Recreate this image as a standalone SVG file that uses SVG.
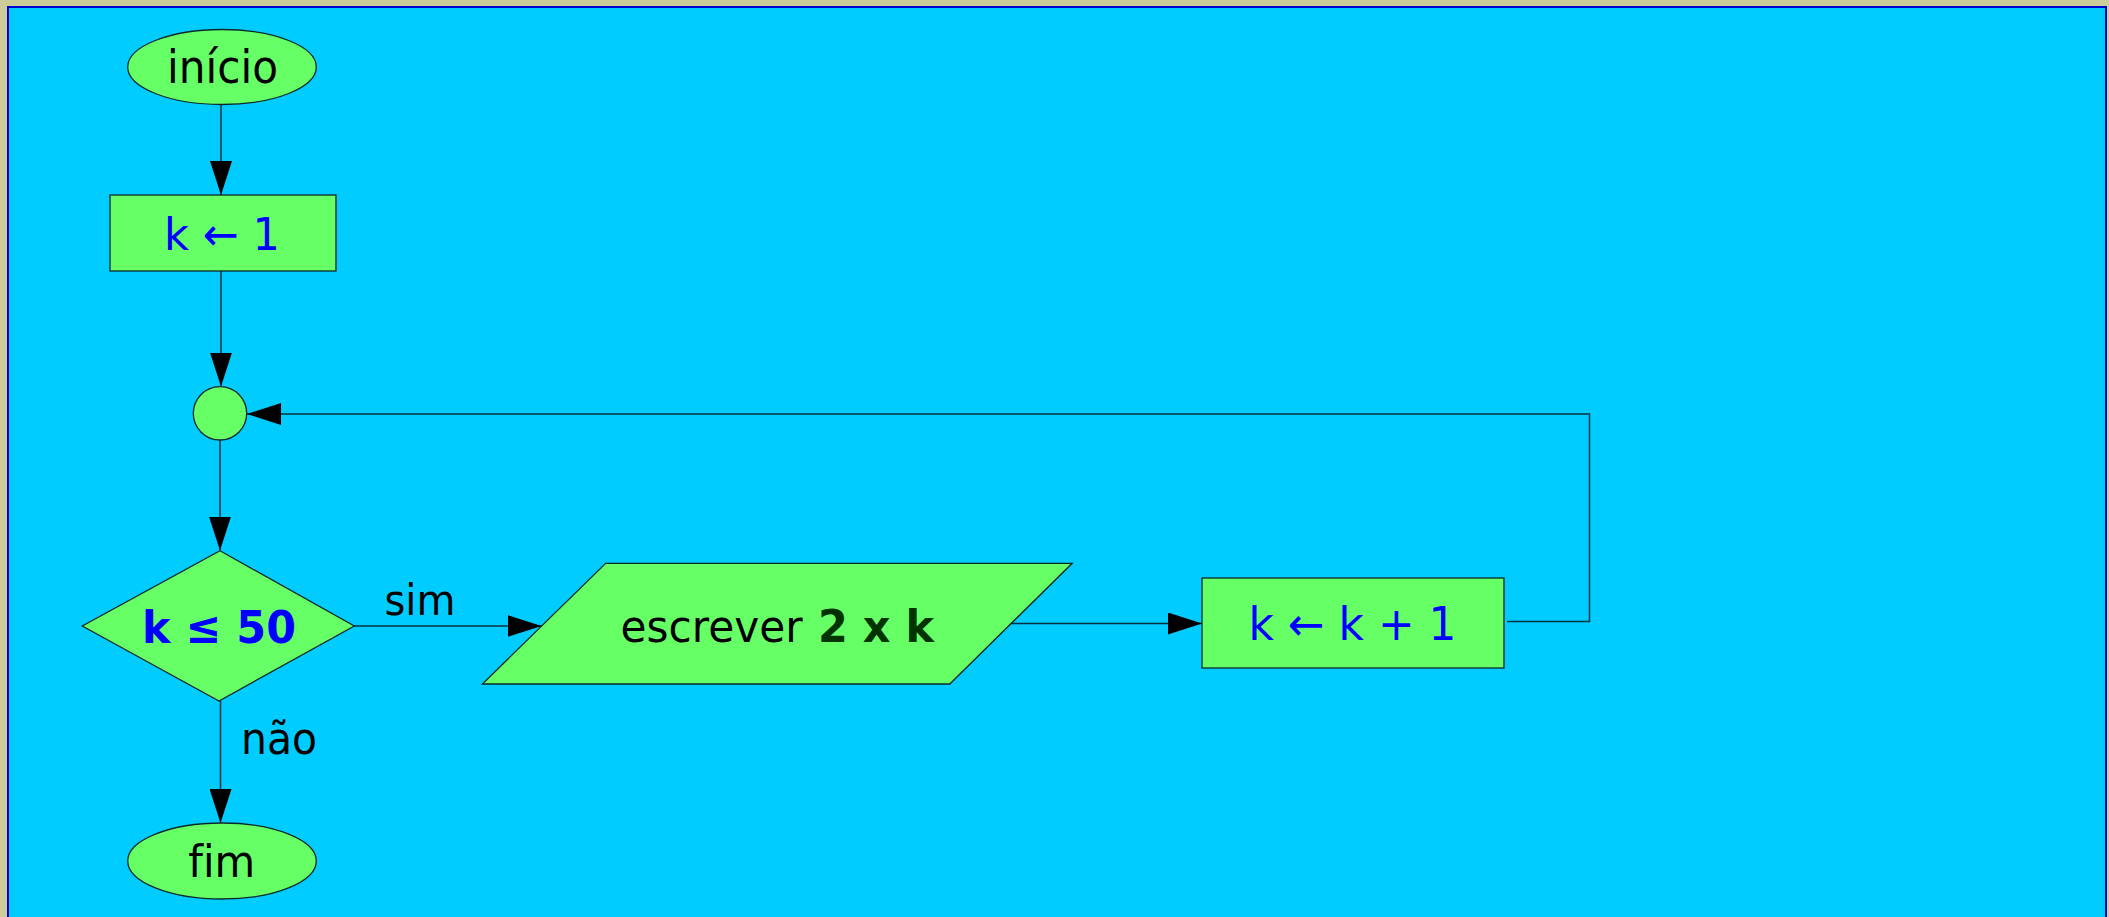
<svg xmlns="http://www.w3.org/2000/svg" width="2109" height="917" viewBox="0 0 2109 917">
  <style>
    .shape { fill: #66FF66; stroke: #0a2a2a; stroke-width: 1.3; }
    .conn { fill: none; stroke: #0a3040; stroke-width: 1.5; }
    .txt { font-family: "DejaVu Sans", "Liberation Sans", sans-serif; text-anchor: middle; font-variant-ligatures: none; }
    .left { text-anchor: start; }
    .black { fill: #000000; }
    .blue { fill: #0000FF; }
    .bold { font-weight: bold; }
    .dark { fill: #003300; font-weight: bold; }
  </style>
  <defs>
    <marker id="arrow" viewBox="0 0 34 22" refX="34" refY="11" markerWidth="34" markerHeight="22" markerUnits="userSpaceOnUse" orient="auto">
      <path d="M0,0 L34,11 L0,22 Z" fill="#000000"/>
    </marker>
  </defs>

  <!-- page frame -->
  <rect x="0" y="0" width="2109" height="917" fill="#CCCC99"/>
  <rect x="8" y="7" width="2098" height="1000" fill="#00CCFF" stroke="#0000CC" stroke-width="2"/>

  <!-- connectors -->
  <g id="connectors">
    <line class="conn" x1="221" y1="105" x2="221" y2="195" marker-end="url(#arrow)"/>
    <line class="conn" x1="221" y1="271" x2="221" y2="386.5" marker-end="url(#arrow)"/>
    <line class="conn" x1="220" y1="440" x2="220" y2="550.5" marker-end="url(#arrow)"/>
    <line class="conn" x1="354" y1="626" x2="541.5" y2="626" marker-end="url(#arrow)"/>
    <line class="conn" x1="1011" y1="623.5" x2="1202" y2="623.5" marker-end="url(#arrow)"/>
    <path class="conn" d="M1507,621.5 H1589.5 V414 H247" marker-end="url(#arrow)"/>
    <line class="conn" x1="220.5" y1="701" x2="220.5" y2="823" marker-end="url(#arrow)"/>
    <text class="txt black" x="420" y="615" font-size="43" textLength="71" lengthAdjust="spacingAndGlyphs">sim</text>
    <text class="txt black" x="279" y="754" font-size="44" textLength="76" lengthAdjust="spacingAndGlyphs">não</text>
  </g>

  <!-- start -->
  <g id="node-inicio">
    <ellipse class="shape" cx="222" cy="67" rx="94.3" ry="37.5"/>
    <text class="txt black" x="222.5" y="83" font-size="46" textLength="111" lengthAdjust="spacingAndGlyphs">início</text>
  </g>

  <!-- k = 1 -->
  <g id="node-init">
    <rect class="shape" x="110" y="195" width="226" height="76"/>
    <text class="txt blue" x="222" y="250" font-size="45" textLength="116" lengthAdjust="spacingAndGlyphs">k ← 1</text>
  </g>

  <!-- loop junction -->
  <g id="node-junction">
    <circle class="shape" cx="220" cy="413.3" r="26.7"/>
  </g>

  <!-- decision -->
  <g id="node-decision">
    <polygon class="shape" points="220,550.7 354.3,626 219,701 82.3,626"/>
    <text class="txt blue bold" x="219" y="643" font-size="45" textLength="154" lengthAdjust="spacingAndGlyphs">k ≤ 50</text>
  </g>

  <!-- output -->
  <g id="node-output">
    <polygon class="shape" points="605.7,563.3 1072.2,563.3 949.8,684 482.4,684"/>
    <text class="txt left black" x="620.5" y="641.5" font-size="45" textLength="182" lengthAdjust="spacingAndGlyphs">escrever</text>
    <text class="txt left dark" x="818" y="641.5" font-size="45" textLength="116" lengthAdjust="spacingAndGlyphs">2 x k</text>
  </g>

  <!-- increment -->
  <g id="node-increment">
    <rect class="shape" x="1202" y="578" width="302" height="90"/>
    <text class="txt blue" x="1352.5" y="640" font-size="46" textLength="208" lengthAdjust="spacingAndGlyphs">k ← k + 1</text>
  </g>

  <!-- end -->
  <g id="node-fim">
    <ellipse class="shape" cx="222" cy="861" rx="94.3" ry="38"/>
    <text class="txt black" x="221.7" y="876.5" font-size="45" textLength="67" lengthAdjust="spacingAndGlyphs">fim</text>
  </g>
</svg>
